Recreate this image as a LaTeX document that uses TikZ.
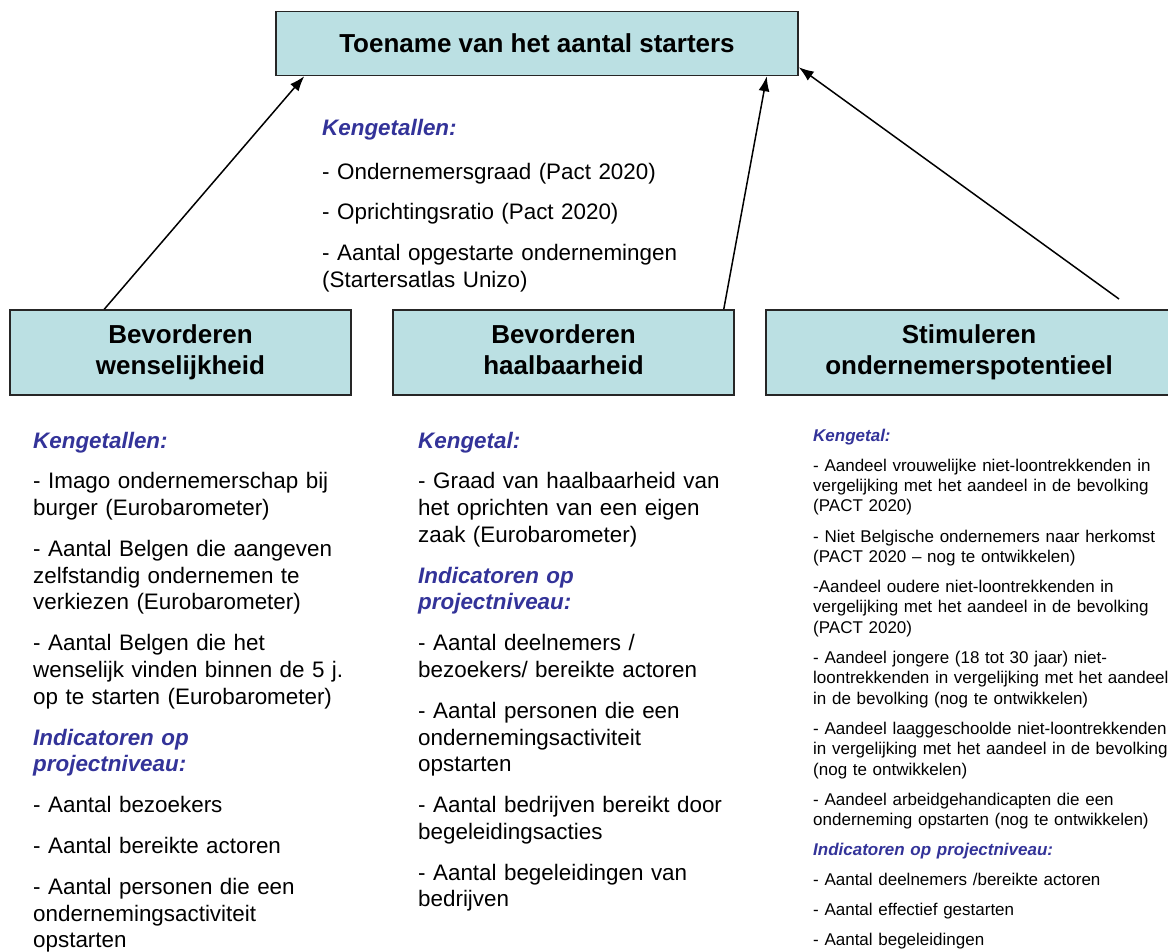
\documentclass[tikz,border=0pt]{standalone}
\usepackage{fontspec}
\setmainfont{Liberation Sans}
\usetikzlibrary{arrows.meta}
\definecolor{boxfill}{RGB}{187,224,227}
\definecolor{headblue}{RGB}{51,51,153}
\newcommand\kophead[1]{{\color{headblue}\bfseries\itshape #1}}
\newcommand\bigpgap{\\[14.2pt]}
\newcommand\smallpgap{\\[9.7pt]}
\tikzset{
  box/.style={draw=black!85, line width=1.5pt, fill=boxfill, inner sep=0pt,
    align=center, font=\fontsize{26}{31}\selectfont\bfseries},
  conn/.style={line width=1.5pt, -{Latex[length=15pt,width=11pt]}},
  bigtext/.style={anchor=base west, inner sep=0pt, text width=#1, align=left,
    font=\fontsize{22.4}{26.7}\selectfont},
  smalltext/.style={anchor=base west, inner sep=0pt, text width=#1, align=left,
    font=\fontsize{17}{20.4}\selectfont},
}
\begin{document}
\begin{tikzpicture}[x=1pt,y=-1pt]
\useasboundingbox[fill=white] (0,0) rectangle (1168,952);

% boxes
\node[box, minimum width=522pt, minimum height=64pt] (top) at (537,43.5) {Toename van het aantal starters};
\node[box, minimum width=341pt, minimum height=85pt] (lbox) at (180.5,352.5) {Bevorderen\\wenselijkheid};
\node[box, minimum width=341pt, minimum height=85pt] (mbox) at (563.5,352.5) {Bevorderen\\haalbaarheid\vphantom{j}};
\node[box, minimum width=406pt, minimum height=85pt] (rbox) at (969,352.5) {Stimuleren\\ondernemerspotentieel\vphantom{j}};

% connectors
\coordinate (rfree) at (1119,299);
\draw[conn] ([xshift=95pt]lbox.north west) -- ([xshift=29pt]top.south west);
\draw[conn] ([xshift=-11pt]mbox.north east) -- ([xshift=-32pt]top.south east);
\draw[conn] (rfree) -- ([yshift=9pt]top.south east);

% central text
\node[bigtext=480pt] (ktop) at (322,136) {\kophead{Kengetallen:}\\[17pt]
- Ondernemersgraad (Pact 2020)\\[13.5pt]
- Oprichtingsratio (Pact 2020)\\[14pt]
- Aantal opgestarte ondernemingen\\
(Startersatlas Unizo)};

% left column
\node[bigtext=360pt] (lcol) at (33,448) {\kophead{Kengetallen:}\bigpgap
- Imago ondernemerschap bij\\
burger (Eurobarometer)\bigpgap
- Aantal Belgen die aangeven\\
zelfstandig ondernemen te\\
verkiezen (Eurobarometer)\bigpgap
- Aantal Belgen die het\\
wenselijk vinden binnen de 5 j.\\
op te starten (Eurobarometer)\bigpgap
\kophead{Indicatoren op}\\
\kophead{projectniveau:}\bigpgap
- Aantal bezoekers\bigpgap
- Aantal bereikte actoren\bigpgap
- Aantal personen die een\\
ondernemingsactiviteit\\
opstarten};

% middle column
\node[bigtext=345pt] (mcol) at (418,448) {\kophead{Kengetal:}\bigpgap
- Graad van haalbaarheid van\\
het oprichten van een eigen\\
zaak (Eurobarometer)\bigpgap
\kophead{Indicatoren op}\\
\kophead{projectniveau:}\bigpgap
- Aantal deelnemers /\\
bezoekers/ bereikte actoren\bigpgap
- Aantal personen die een\\
ondernemingsactiviteit\\
opstarten\bigpgap
- Aantal bedrijven bereikt door\\
begeleidingsacties\bigpgap
- Aantal begeleidingen van\\
bedrijven};

% right column
\node[smalltext=390pt] (rcol) at (813,441) {\kophead{Kengetal:}\smallpgap
- Aandeel vrouwelijke niet-loontrekkenden in\\
vergelijking met het aandeel in de bevolking\\
(PACT 2020)\smallpgap
- Niet Belgische ondernemers naar herkomst\\
(PACT 2020 – nog te ontwikkelen)\smallpgap
-Aandeel oudere niet-loontrekkenden in\\
vergelijking met het aandeel in de bevolking\\
(PACT 2020)\smallpgap
- Aandeel jongere (18 tot 30 jaar) niet-\\
loontrekkenden in vergelijking met het aandeel\\
in de bevolking (nog te ontwikkelen)\smallpgap
- Aandeel laaggeschoolde niet-loontrekkenden\\
in vergelijking met het aandeel in de bevolking\\
(nog te ontwikkelen)\smallpgap
- Aandeel arbeidgehandicapten die een\\
onderneming opstarten (nog te ontwikkelen)\smallpgap
\kophead{Indicatoren op projectniveau:}\smallpgap
- Aantal deelnemers /bereikte actoren\smallpgap
- Aantal effectief gestarten\smallpgap
- Aantal begeleidingen};
\end{tikzpicture}
\end{document}
